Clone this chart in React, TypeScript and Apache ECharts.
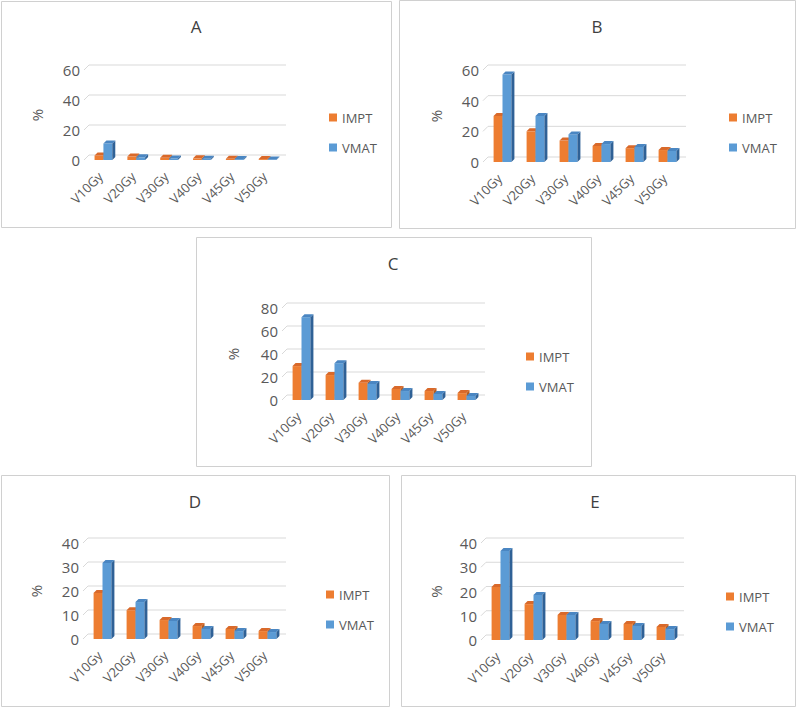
import React, { useEffect, useRef } from "react";
import * as echarts from "echarts";

const categories = ["V10Gy", "V20Gy", "V30Gy", "V40Gy", "V45Gy", "V50Gy"];
const seriesNames = ["IMPT", "VMAT"];

const imptA = [3, 2.3, 1.5, 1.1, 0.8, 0.6];
const vmatA = [11, 1.8, 1, 0.8, 0.6, 0.4];
const imptB = [30, 20, 14, 10.5, 9, 7.8];
const vmatB = [57, 30, 18, 11.7, 9.8, 7.2];
const imptC = [29.5, 21.7, 15, 9.6, 7.8, 6];
const vmatC = [72, 32, 14, 7.8, 5.2, 3.5];
const imptD = [19.2, 12, 7.9, 5.4, 4.2, 3.3];
const vmatD = [31.7, 15.4, 7.5, 4.2, 3.3, 2.9];
const imptE = [21.9, 14.8, 10.3, 7.8, 6.6, 5.4];
const vmatE = [36.7, 18.6, 10.3, 6.6, 5.8, 4.5];

const ticksAB = [0, 20, 40, 60];
const ticksC = [0, 20, 40, 60, 80];
const ticksDE = [0, 10, 20, 30, 40];

const panelTitles = ["A", "B", "C", "D", "E"];
const panelImpt = [imptA, imptB, imptC, imptD, imptE];
const panelVmat = [vmatA, vmatB, vmatC, vmatD, vmatE];
const panelTicks = [ticksAB, ticksAB, ticksC, ticksDE, ticksDE];

// layout (positions only)
const layout = [
  { box: [1.5, 1.5, 390, 226], grid: { left: 84, top: 70, width: 197, height: 90 }, title: [196, 26], legend: [324, 106], nameGap: 40 },
  { box: [399.5, 0.5, 396, 228], grid: { left: 483, top: 70, width: 198, height: 92 }, title: [597, 26], legend: [724, 106], nameGap: 40 },
  { box: [196.5, 237.5, 395, 229], grid: { left: 282, top: 308, width: 198, height: 92 }, title: [393, 263], legend: [521, 345], nameGap: 42 },
  { box: [1.5, 475.5, 388, 231], grid: { left: 83, top: 543, width: 198, height: 96 }, title: [195, 501], legend: [321, 583], nameGap: 40 },
  { box: [401.5, 475.5, 394, 231], grid: { left: 481, top: 543, width: 198, height: 97 }, title: [595, 501], legend: [721, 585], nameGap: 38 },
];

const FONT = "'Open Sans', 'Noto Sans', sans-serif";
const TEXT = "#595959";
const GRIDC = "#D9D9D9";
const COLORS = [
  { front: "#ED7D31", side: "#B85A1B", top: "#D9692A" },
  { front: "#5B9BD5", side: "#2F6196", top: "#4A86C2" },
];
const BAR_DX = 3;
const BAR_DY = 3;
const WALL_DX = 5;
const WALL_DY = 5;

function barRenderer(kind: number) {
  const c = COLORS[kind];
  return (params: any, api: any) => {
    const i = api.value(0);
    const v = api.value(1);
    const base = api.coord([i, 0]);
    const top = api.coord([i, v]);
    const band = api.size([1, 0])[0];
    const w = band * 0.27;
    const cx = base[0] + 3;
    const x0 = cx - w + kind * w;
    const x1 = x0 + w;
    const yt = top[1];
    const yb = base[1];
    return {
      type: "group",
      children: [
        { type: "rect", shape: { x: x0, y: yt, width: w, height: Math.max(0, yb - yt) }, style: { fill: c.front } },
        {
          type: "polygon",
          shape: { points: [[x1, yt], [x1 + BAR_DX, yt - BAR_DY], [x1 + BAR_DX, yb - BAR_DY], [x1, yb]] },
          style: { fill: c.side },
        },
        {
          type: "polygon",
          shape: { points: [[x0, yt], [x0 + BAR_DX, yt - BAR_DY], [x1 + BAR_DX, yt - BAR_DY], [x1, yt]] },
          style: { fill: c.top },
        },
      ],
    };
  };
}

function wallRenderer(params: any, api: any) {
  const cs = params.coordSys;
  const y = api.coord([0, api.value(1)])[1];
  return {
    type: "group",
    children: [
      {
        type: "line",
        shape: { x1: cs.x + WALL_DX, y1: y - WALL_DY, x2: cs.x + cs.width + WALL_DX, y2: y - WALL_DY },
        style: { stroke: GRIDC, lineWidth: 1 },
      },
      {
        type: "line",
        shape: { x1: cs.x, y1: y, x2: cs.x + WALL_DX, y2: y - WALL_DY },
        style: { stroke: GRIDC, lineWidth: 1 },
      },
    ],
  };
}

export default function App() {
  const ref = useRef<HTMLDivElement>(null);
  useEffect(() => {
    if (!ref.current) return;
    const chart = echarts.init(ref.current, null, { renderer: "svg" });
    const grids: any[] = [];
    const xAxes: any[] = [];
    const yAxes: any[] = [];
    const series: any[] = [];
    const legends: any[] = [];
    const graphics: any[] = [];
    layout.forEach((L, p) => {
      const ticks = panelTicks[p];
      const max = ticks[ticks.length - 1];
      const interval = ticks[1] - ticks[0];
      grids.push({ ...L.grid });
      xAxes.push({
        type: "category",
        gridIndex: p,
        data: categories,
        axisLine: { show: false },
        axisTick: { show: false },
        axisLabel: { rotate: 45, interval: 0, fontSize: 13, color: TEXT, fontFamily: FONT, margin: 14 },
      });
      yAxes.push({
        type: "value",
        gridIndex: p,
        min: 0,
        max,
        interval,
        name: "%",
        nameLocation: "middle",
        nameGap: L.nameGap,
        nameTextStyle: { fontSize: 15, color: TEXT, fontFamily: FONT },
        axisLine: { show: false },
        axisTick: { show: false },
        splitLine: { show: false },
        axisLabel: { fontSize: 15, color: TEXT, fontFamily: FONT, margin: 4 },
      });
      series.push({
        type: "custom",
        name: "wall" + p,
        xAxisIndex: p,
        yAxisIndex: p,
        z: 1,
        silent: true,
        renderItem: wallRenderer,
        data: ticks.map((t) => [0, t]),
      });
      [panelImpt[p], panelVmat[p]].forEach((vals, k) => {
        series.push({
          type: "custom",
          name: seriesNames[k],
          xAxisIndex: p,
          yAxisIndex: p,
          z: 2 + k,
          itemStyle: { color: COLORS[k].front },
          renderItem: barRenderer(k),
          encode: { x: 0, y: 1 },
          data: vals.map((v, i) => [i, v]),
        });
      });
      legends.push({
        left: L.legend[0],
        top: L.legend[1],
        orient: "vertical",
        icon: "rect",
        itemWidth: 8,
        itemHeight: 8,
        itemGap: 17,
        data: seriesNames,
        textStyle: { fontSize: 13, color: TEXT, fontFamily: FONT },
      });
      graphics.push({
        type: "rect",
        shape: { x: L.box[0], y: L.box[1], width: L.box[2], height: L.box[3] },
        style: { fill: "none", stroke: "#D0D0D0", lineWidth: 1 },
        z: 0,
      });
      graphics.push({
        type: "text",
        x: L.title[0],
        y: L.title[1],
        style: {
          text: panelTitles[p],
          fontSize: 17,
          fontFamily: FONT,
          fill: "#404040",
          align: "center",
          verticalAlign: "middle",
        },
      });
    });
    chart.setOption({
      animation: false,
      backgroundColor: "#ffffff",
      grid: grids,
      xAxis: xAxes,
      yAxis: yAxes,
      legend: legends,
      series,
      graphic: graphics,
    });
    return () => chart.dispose();
  }, []);
  return (
    <div
      ref={ref}
      style={{ position: "fixed", left: 0, top: 0, width: 797, height: 708, background: "#fff" }}
    />
  );
}
